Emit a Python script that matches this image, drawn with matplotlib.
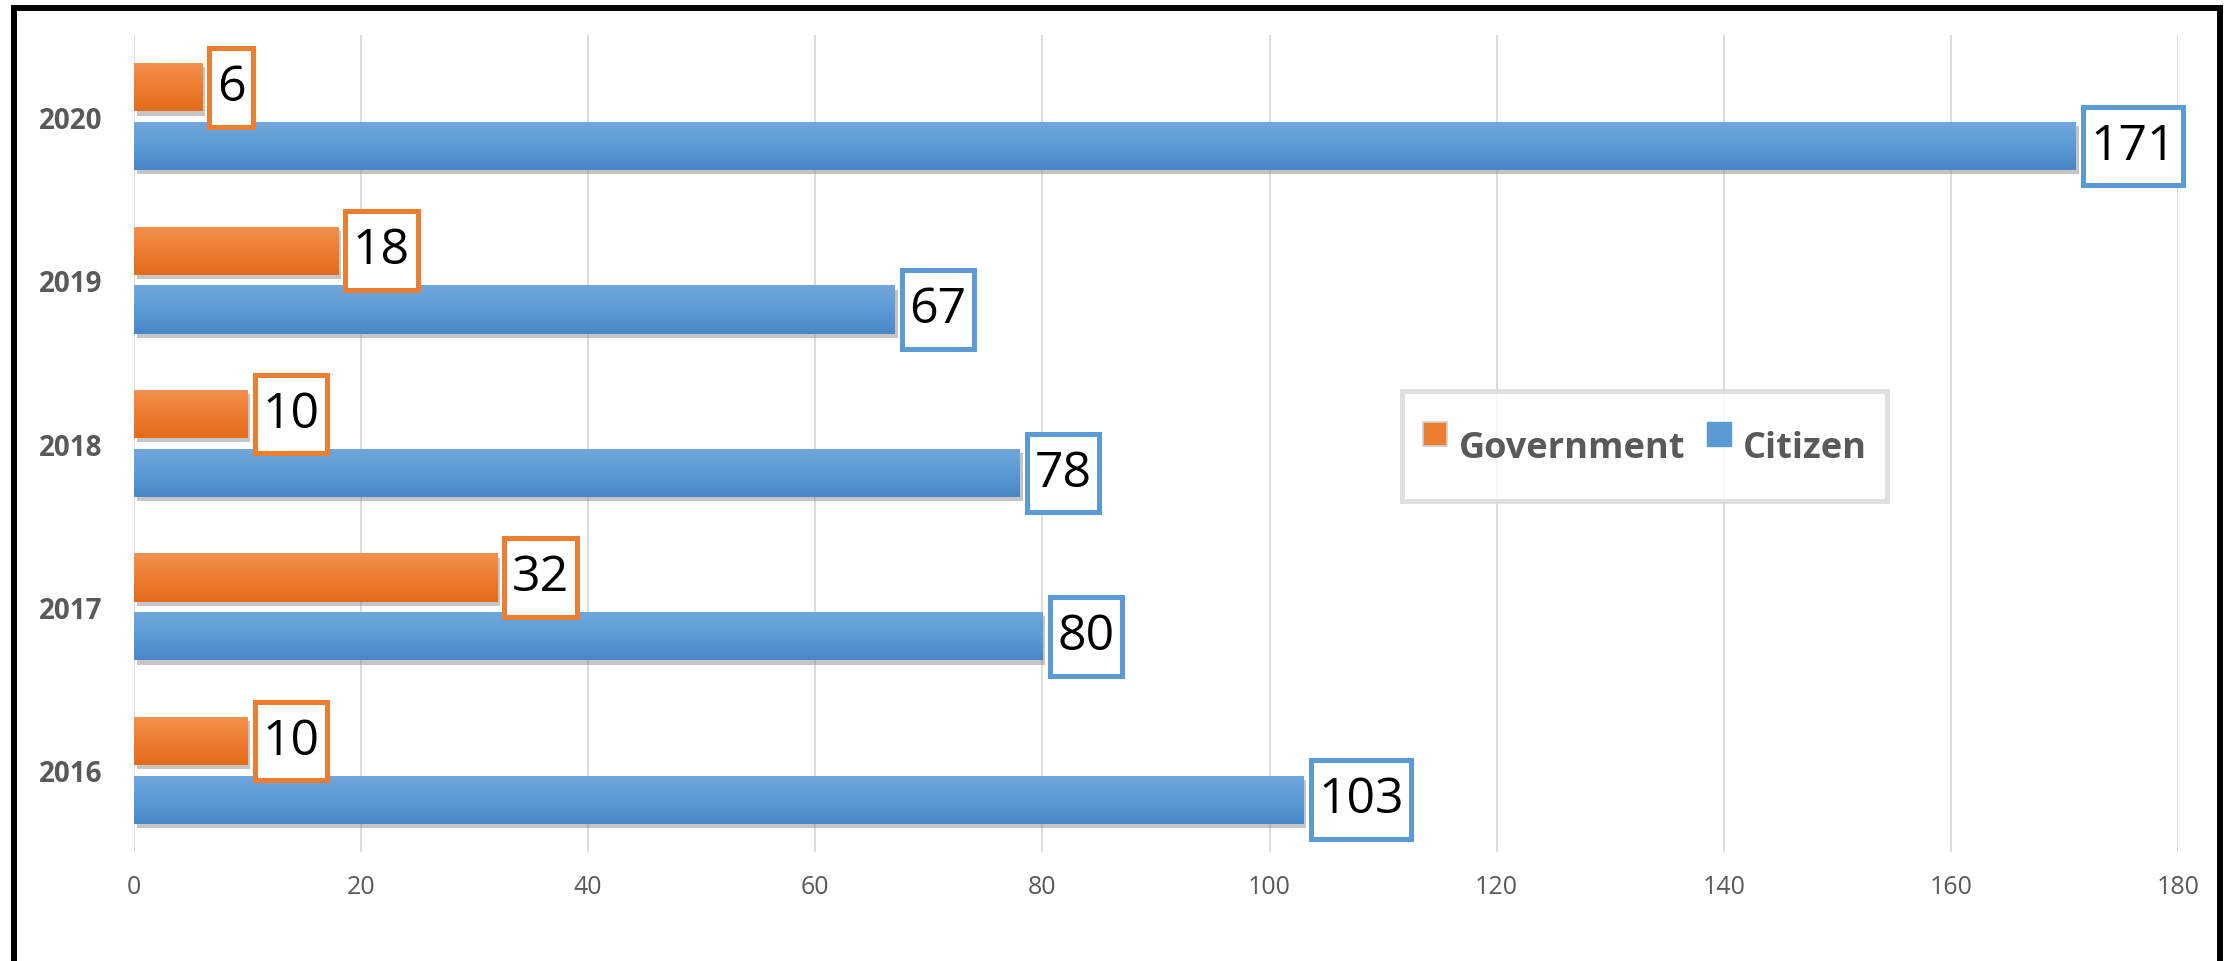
import numpy as np
import matplotlib
matplotlib.use("Agg")
import matplotlib.pyplot as plt
from matplotlib import patheffects as pe
from matplotlib.lines import Line2D
from matplotlib.path import Path
from matplotlib.colors import LinearSegmentedColormap

# values
years = ["2016", "2017", "2018", "2019", "2020"]
government = [10, 32, 10, 18, 6]
citizen = [103, 80, 78, 67, 171]
x_ticks = [0, 20, 40, 60, 80, 100, 120, 140, 160, 180]

plt.rcParams["font.family"] = ["Open Sans", "DejaVu Sans"]

orange = "#ED7D31"
blue = "#5B9BD5"
grey_txt = "#595959"


def label_box(x0, y0, width, height, mutation_size):
    # square box, more padding top/bottom than left/right
    px, py = 0.15 * mutation_size, 0.29 * mutation_size
    x0, y0 = x0 - px, y0 - py
    x1, y1 = x0 + width + 2 * px, y0 + height + 2 * py
    return Path([(x0, y0), (x1, y0), (x1, y1), (x0, y1), (x0, y0)], closed=True)


fig = plt.figure(figsize=(22.36, 9.62), dpi=100)
ax = fig.add_axes([134 / 2236, 1 - 853 / 962, (2178 - 134) / 2236, (853 - 36) / 962])

y = np.arange(len(years))
off, h = 0.18, 0.295

shadow = [pe.SimplePatchShadow(offset=(2, -3), shadow_rgbFace="#7f7f7f", alpha=0.45), pe.Normal()]
gov_bars = ax.barh(y + off, government, height=h, color=orange, zorder=2, path_effects=shadow)
cit_bars = ax.barh(y - off, citizen, height=h, color=blue, zorder=2, path_effects=shadow)

# vertical gradient (lighter on top) clipped to each bar
grad = np.linspace(0, 1, 64).reshape(-1, 1)
cmap_o = LinearSegmentedColormap.from_list("o", ["#F4914F", "#ED7D31", "#E46C1A"])
cmap_b = LinearSegmentedColormap.from_list("b", ["#71A7DD", "#5B9BD5", "#4787C8"])
for bars, cm in ((gov_bars, cmap_o), (cit_bars, cmap_b)):
    for b in bars:
        x0, y0 = b.get_x(), b.get_y()
        im = ax.imshow(grad, extent=(x0, x0 + b.get_width(), y0, y0 + b.get_height()),
                       origin="lower", cmap=cm.reversed(), aspect="auto", zorder=2.5,
                       interpolation="bicubic")
        im.set_clip_path(b)

ax.set_xlim(0, 180)
ax.set_ylim(-0.5, 4.5)
ax.set_xticks(x_ticks)
ax.set_yticks(y)
ax.set_yticklabels(years, fontweight="bold", fontsize=20, color=grey_txt)
ax.tick_params(axis="x", length=0, pad=16, labelsize=18, labelcolor=grey_txt)
ax.tick_params(axis="y", length=0, pad=23)
ax.grid(axis="x", color="#D9D9D9", lw=1.3, zorder=0)
ax.set_axisbelow(True)
for s in ax.spines.values():
    s.set_visible(False)

# boxed data labels
for vals, ypos, col in ((government, y + off, orange), (citizen, y - off, blue)):
    for v, yy in zip(vals, ypos):
        ax.annotate(str(v), (v, yy), xytext=(10.5, 0), textcoords="offset points",
                    ha="left", va="center", fontsize=36, color="black", zorder=5,
                    bbox=dict(boxstyle=label_box, fc="white", ec=col, lw=3.6))

handles = [
    Line2D([], [], marker="s", ls="", markersize=17, markerfacecolor=orange,
           markeredgecolor="#D0D0D0", markeredgewidth=1.2),
    Line2D([], [], marker="s", ls="", markersize=17, markerfacecolor=blue,
           markeredgecolor=blue),
]
leg = ax.legend(handles, ["Government", "Citizen"], loc="center", bbox_to_anchor=(0.739, 0.497),
                ncol=2, fontsize=26, frameon=True, fancybox=False, borderpad=0.55,
                handlelength=0.7, handleheight=2.65, handletextpad=0.3, columnspacing=0.6)
for t in leg.get_texts():
    t.set_fontweight("bold")
    t.set_color(grey_txt)
fr = leg.get_frame()
fr.set_edgecolor("#D9D9D9")
fr.set_linewidth(3.6)
fr.set_facecolor("white")
leg.set_zorder(6)

# black outer frame (bottom edge runs off the image)
fig.add_artist(Line2D([13.5 / 2236, 13.5 / 2236, 2220 / 2236, 2220 / 2236],
                      [-0.05, 1 - 8.5 / 962, 1 - 8.5 / 962, -0.05],
                      transform=fig.transFigure, color="black", lw=4.3,
                      solid_joinstyle="miter"))

fig.savefig("out.png", dpi=100)
